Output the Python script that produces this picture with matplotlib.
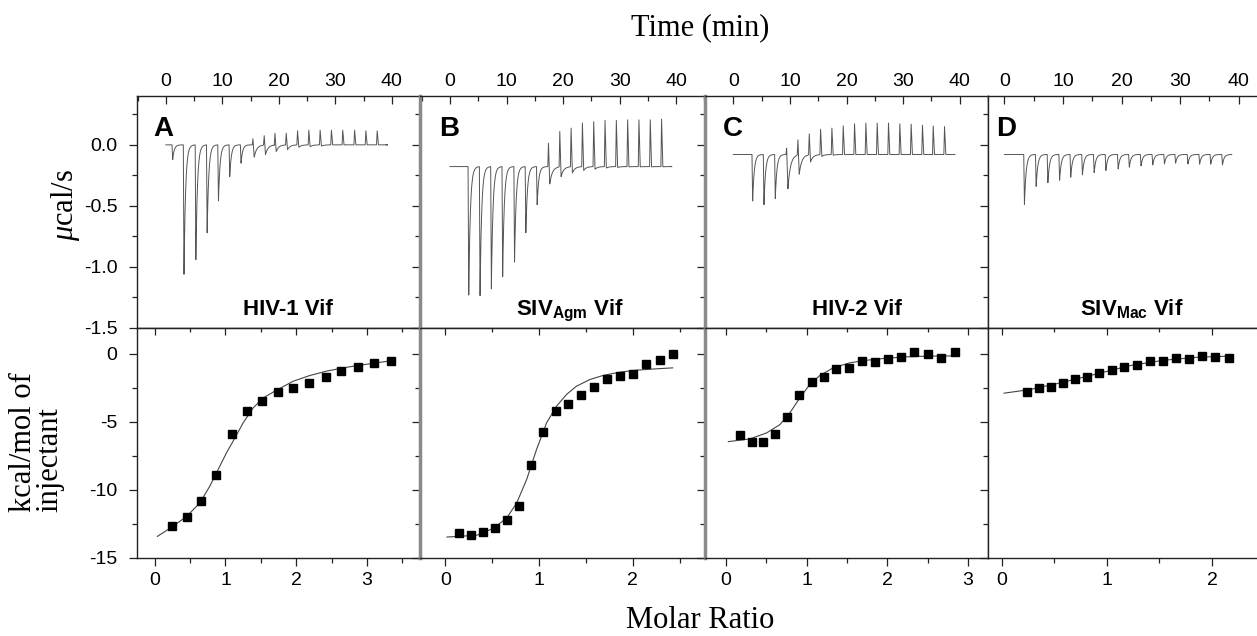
import numpy as np
import matplotlib
matplotlib.use("Agg")
import matplotlib.pyplot as plt
from matplotlib.ticker import MultipleLocator

plt.rcParams["font.family"] = ["Liberation Sans", "DejaVu Sans"]
plt.rcParams["mathtext.fontset"] = "custom"
plt.rcParams["mathtext.bf"] = "Liberation Sans:bold"
plt.rcParams["mathtext.it"] = "Liberation Serif:italic"
plt.rcParams["mathtext.rm"] = "Liberation Serif"

# ---------------- raw ITC traces (top row) ----------------
letters = ["A", "B", "C", "D"]
titles = ["HIV-1 Vif", r"SIV$_{\mathbf{Agm}}$ Vif", "HIV-2 Vif", r"SIV$_{\mathbf{Mac}}$ Vif"]

base_A = 0.0
inj_A = [1.1, 3.1, 5.2, 7.2, 9.2, 11.2, 13.2, 15.3, 17.3, 19.2, 21.2, 23.2, 25.2, 27.2, 29.2, 31.2, 33.3, 35.3, 37.3]
low_A = [-0.12, -1.06, -0.94, -0.72, -0.46, -0.26, -0.15, -0.10, -0.08, -0.055, -0.04, -0.02, -0.015, -0.01, 0, 0, 0, 0, 0]
high_A = [0, 0, 0, 0, 0, 0, 0, 0.05, 0.075, 0.095, 0.095, 0.115, 0.12, 0.12, 0.12, 0.12, 0.12, 0.115, 0.115]

base_B = -0.178
inj_B = [3.2, 5.2, 7.2, 9.2, 11.3, 13.3, 15.3, 17.3, 19.3, 21.3, 23.3, 25.3, 27.3, 29.3, 31.3, 33.3, 35.3, 37.3]
low_B = [-1.23, -1.235, -1.18, -1.08, -0.96, -0.72, -0.49, -0.32, -0.26, -0.23, -0.21, -0.2, -0.19, -0.185, -0.18, -0.18, -0.18, -0.18]
high_B = [-0.178] * 7 + [0.014, 0.11, 0.137, 0.178, 0.19, 0.2, 0.2, 0.205, 0.205, 0.205, 0.21]

base_C = -0.079
inj_C = [3.3, 5.3, 7.3, 9.3, 11.3, 13.3, 15.3, 17.3, 19.3, 21.3, 23.3, 25.3, 27.3, 29.3, 31.3, 33.3, 35.2, 37.2]
low_C = [-0.46, -0.49, -0.44, -0.36, -0.24, -0.14, -0.095, -0.085, -0.08, -0.08, -0.079, -0.079, -0.079, -0.079, -0.079, -0.079, -0.079, -0.079]
high_C = [-0.079, -0.079, -0.079, -0.027, 0.041, 0.09, 0.128, 0.137, 0.156, 0.172, 0.178, 0.178, 0.178, 0.172, 0.17, 0.161, 0.155, 0.15]

base_D = -0.079
inj_D = [3.3, 5.3, 7.3, 9.3, 11.2, 13.2, 15.2, 17.2, 19.3, 21.2, 23.2, 25.2, 27.2, 29.1, 31.2, 33.2, 35.1, 37.1]
low_D = [-0.487, -0.34, -0.31, -0.29, -0.265, -0.246, -0.227, -0.21, -0.197, -0.183, -0.172, -0.164, -0.156, -0.15, -0.156, -0.158, -0.158, -0.164]
high_D = [-0.079] * 18

trace_end = [39.0, 39.1, 39.0, 38.8]

# ---------------- integrated heats (bottom row) ----------------
ratio_A = [0.245, 0.453, 0.66, 0.873, 1.09, 1.30, 1.52, 1.74, 1.96, 2.18, 2.415, 2.64, 2.87, 3.10, 3.335]
heat_A = [-12.67, -11.96, -10.81, -8.87, -5.91, -4.22, -3.43, -2.79, -2.48, -2.13, -1.72, -1.27, -0.93, -0.69, -0.49]
fitx_A = [0.038, 0.245, 0.453, 0.637, 0.778, 0.92, 1.014, 1.108, 1.25, 1.392, 1.533, 1.722, 1.958, 2.193, 2.429, 2.665, 2.90, 3.137, 3.335]
fity_A = [-13.41, -12.72, -11.94, -10.96, -9.73, -8.26, -7.28, -6.42, -5.07, -3.97, -3.24, -2.67, -2.01, -1.59, -1.27, -1.03, -0.83, -0.66, -0.51]

ratio_B = [0.149, 0.273, 0.40, 0.527, 0.655, 0.782, 0.917, 1.044, 1.179, 1.313, 1.451, 1.586, 1.724, 1.862, 2.004, 2.145, 2.287, 2.428]
heat_B = [-13.19, -13.33, -13.11, -12.79, -12.23, -11.15, -8.19, -5.71, -4.17, -3.65, -2.99, -2.40, -1.86, -1.62, -1.50, -0.71, -0.42, -0.02]
fitx_B = [0.018, 0.336, 0.513, 0.655, 0.761, 0.867, 0.973, 1.08, 1.186, 1.292, 1.398, 1.54, 1.681, 1.858, 2.035, 2.248, 2.425]
fity_B = [-13.46, -13.33, -12.82, -12.06, -10.96, -9.24, -7.03, -5.07, -3.85, -2.99, -2.38, -1.89, -1.59, -1.35, -1.20, -1.10, -1.03]

ratio_C = [0.169, 0.318, 0.462, 0.611, 0.759, 0.908, 1.065, 1.217, 1.37, 1.527, 1.688, 1.845, 2.01, 2.171, 2.336, 2.50, 2.666, 2.835]
heat_C = [-5.98, -6.47, -6.47, -5.86, -4.61, -3.04, -2.08, -1.72, -1.08, -1.03, -0.54, -0.59, -0.39, -0.22, 0.17, 0.0, -0.29, 0.12]
fitx_C = [0.029, 0.297, 0.504, 0.669, 0.792, 0.916, 1.04, 1.164, 1.329, 1.535, 1.742, 1.989, 2.237, 2.485, 2.835]
fity_C = [-6.45, -6.25, -5.81, -5.20, -4.34, -3.24, -2.25, -1.59, -1.03, -0.66, -0.47, -0.32, -0.22, -0.17, -0.15]

ratio_D = [0.244, 0.356, 0.467, 0.581, 0.698, 0.813, 0.927, 1.048, 1.165, 1.286, 1.41, 1.53, 1.657, 1.781, 1.905, 2.032, 2.159]
heat_D = [-2.79, -2.48, -2.40, -2.11, -1.84, -1.69, -1.40, -1.18, -0.98, -0.81, -0.49, -0.49, -0.29, -0.37, -0.17, -0.22, -0.29]
fitx_D = [0.022, 0.27, 0.587, 0.905, 1.222, 1.54, 1.857, 2.159]
fity_D = [-2.89, -2.62, -2.08, -1.47, -0.86, -0.47, -0.25, -0.17]

raw = [(base_A, inj_A, low_A, high_A), (base_B, inj_B, low_B, high_B),
       (base_C, inj_C, low_C, high_C), (base_D, inj_D, low_D, high_D)]
iso = [(ratio_A, heat_A, fitx_A, fity_A), (ratio_B, heat_B, fitx_B, fity_B),
       (ratio_C, heat_C, fitx_C, fity_C), (ratio_D, heat_D, fitx_D, fity_D)]


def build_trace(base, times, lows, highs, t_end):
    t = [0.0]
    y = [base]
    for t0, lo, hi in zip(times, lows, highs):
        t.append(t0)
        y.append(base)
        if hi > base + 0.005:
            t += [t0 + 0.12, t0 + 0.35]
            y += [hi, lo]
            start, tau = t0 + 0.35, 0.45
        else:
            t.append(t0 + 0.12)
            y.append(lo)
            start, tau = t0 + 0.12, 0.28
        for d in np.linspace(0.06, 1.6, 14):
            t.append(start + d)
            y.append(base + (lo - base) * np.exp(-d / tau))
    t.append(t_end)
    y.append(base)
    return t, y


fig = plt.figure(figsize=(12.57, 6.36), dpi=100)

lefts = [137, 420, 705, 988]
widths = [283, 285, 283, 283]
top_xlim = [(-5.1, 45), (-5.3, 45.1), (-5.0, 45), (-2.8, 45.5)]
bot_xlim = [(-0.25, 3.75), (-0.27, 2.77), (-0.26, 3.25), (-0.13, 2.56)]
letter_x = [0.057, 0.067, 0.064, 0.028]
title_x = [0.533, 0.526, 0.537, 0.509]

W, H = 1257.0, 636.0
tick_kw = dict(width=0.9, color="#222222", labelsize=14, labelcolor="black")

for i in range(4):
    l = lefts[i] / W
    w = widths[i] / W
    # top panel
    ax = fig.add_axes([l, 1 - 328 / H, w, 232 / H])
    base, times, lows, highs = raw[i]
    t, y = build_trace(base, times, lows, highs, trace_end[i])
    ax.plot(t, y, color="#555555", lw=0.7)
    ax.set_xlim(*top_xlim[i])
    ax.set_ylim(-1.5, 0.4)
    ax.xaxis.tick_top()
    ax.xaxis.set_major_locator(MultipleLocator(10))
    ax.xaxis.set_minor_locator(MultipleLocator(5))
    ax.yaxis.set_major_locator(MultipleLocator(0.5))
    ax.yaxis.set_minor_locator(MultipleLocator(0.25))
    ax.tick_params(axis="x", which="both", direction="in", pad=4, **tick_kw)
    ax.tick_params(axis="x", which="major", length=6)
    ax.tick_params(axis="x", which="minor", length=3.5)
    ax.tick_params(axis="y", which="both", direction="out", right=False, pad=8, **tick_kw)
    ax.tick_params(axis="y", which="major", length=6)
    ax.tick_params(axis="y", which="minor", length=3.5)
    ax.yaxis.set_major_formatter(plt.FuncFormatter(lambda v, p: f"{v:.1f}"))
    if i > 0:
        ax.tick_params(axis="y", labelleft=False)
    ax.text(letter_x[i], 0.915, letters[i], transform=ax.transAxes, fontsize=20,
            fontweight="bold", ha="left", va="top")
    ax.text(title_x[i], 0.056, titles[i], transform=ax.transAxes, fontsize=16,
            fontweight="bold", ha="center", va="baseline")

    # bottom panel
    bx = fig.add_axes([l, 1 - 558 / H, w, 230 / H])
    rx, hy, fx, fy = iso[i]
    bx.plot(fx, fy, color="#444444", lw=0.8)
    bx.plot(rx, hy, "s", color="black", ms=5.5)
    bx.set_xlim(*bot_xlim[i])
    bx.set_ylim(-15, 1.9)
    bx.xaxis.set_major_locator(MultipleLocator(1))
    bx.xaxis.set_minor_locator(MultipleLocator(0.5))
    bx.yaxis.set_major_locator(MultipleLocator(5))
    bx.yaxis.set_minor_locator(MultipleLocator(2.5))
    bx.tick_params(axis="both", which="both", direction="out", right=False, top=False, **tick_kw)
    bx.tick_params(axis="x", pad=4)
    bx.tick_params(axis="y", pad=8)
    bx.tick_params(which="major", length=6)
    bx.tick_params(which="minor", length=3.5)
    bx.yaxis.set_major_formatter(plt.FuncFormatter(lambda v, p: f"{v:.0f}"))
    if i > 0:
        bx.tick_params(axis="y", labelleft=False)
    sec = bx.secondary_xaxis("top")
    sec.xaxis.set_major_locator(MultipleLocator(1))
    sec.xaxis.set_minor_locator(MultipleLocator(0.5))
    sec.tick_params(which="both", direction="in", labeltop=False, width=0.9, color="#222222")
    sec.tick_params(which="major", length=5)
    sec.tick_params(which="minor", length=3)

    for a in (ax, bx):
        for s in a.spines.values():
            s.set_linewidth(1.0)
            s.set_color("#222222")
        if i in (1, 2):
            a.spines["left"].set_color("#8a8a8a")
            a.spines["left"].set_linewidth(2.5)

fig.text(700 / W, 1 - 28 / H, "Time (min)", fontsize=22, family="Liberation Serif",
         ha="center", va="center")
fig.text(700 / W, 1 - 621 / H, "Molar Ratio", fontsize=22, family="Liberation Serif",
         ha="center", va="center")
fig.text(66 / W, 1 - 205 / H, r"$\mu$cal/s", fontsize=22, family="Liberation Serif",
         rotation=90, ha="center", va="center")
fig.text(37 / W, 1 - 512 / H, "kcal/mol of\ninjectant", fontsize=22,
         family="Liberation Serif", rotation=90, ha="center", va="bottom",
         multialignment="left", linespacing=0.88)

fig.savefig("out.png", dpi=100)
